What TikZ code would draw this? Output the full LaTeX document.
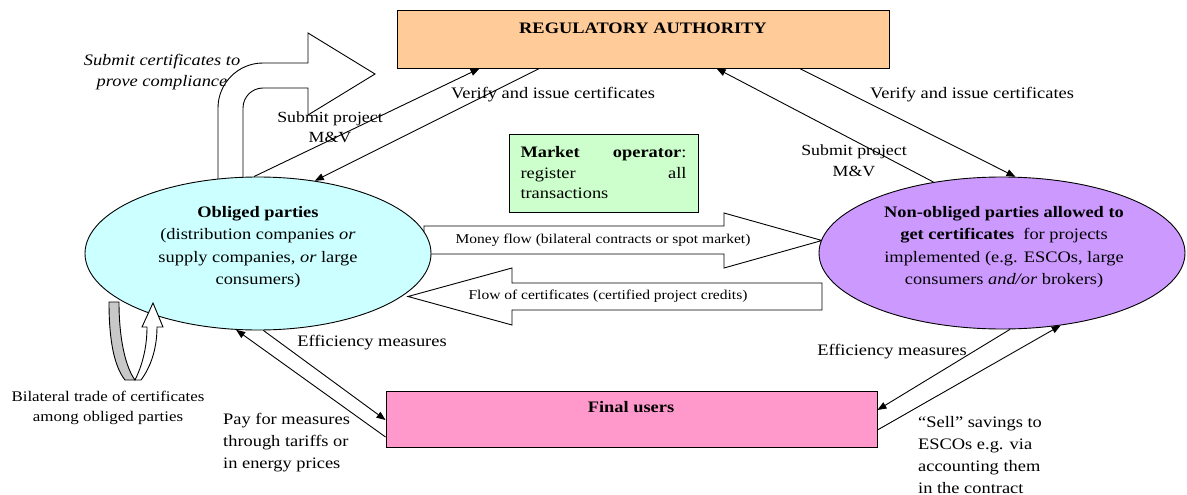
\documentclass[tikz,border=0pt]{standalone}
\usepackage{fontspec}
\setmainfont{Liberation Serif}[FakeStretch=1.15]
\usetikzlibrary{shapes.geometric,arrows.meta}
\definecolor{regc}{HTML}{FFCC99}
\definecolor{mktc}{HTML}{CCFFCC}
\definecolor{oblc}{HTML}{CCFFFF}
\definecolor{nobc}{HTML}{CC99FF}
\definecolor{finc}{HTML}{FF99CC}
\definecolor{loopgrey}{HTML}{C8C8C8}
\newcommand\tsz[2]{\fontsize{#1pt}{#2pt}\selectfont}
\begin{document}
\begin{tikzpicture}[x=1pt,y=-1pt,
  outl/.style={draw=black,line width=0.9pt},
  rectbox/.style={outl,rectangle,inner sep=0pt},
  ellbox/.style={outl,ellipse,inner sep=0pt},
  lbl/.style={inner sep=0pt,align=center,font=\tsz{16}{21}},
  lbll/.style={inner sep=0pt,align=left,anchor=west,font=\tsz{16}{22}},
  thinarrow/.style={line width=0.9pt,-{Triangle[length=9pt,width=7pt]}},
  blockarrow/.style={outl,fill=white,line join=miter}
]
\useasboundingbox (0,0) rectangle (1187,495);

% block arrows (behind ellipses)
\draw[blockarrow] (424,226) -- (724,226) -- (724,213) -- (822,240.5) -- (724,268) -- (724,254) -- (424,254) -- cycle;
\draw[blockarrow] (822,283) -- (512,283) -- (512,268) -- (408,296.5) -- (512,325) -- (512,310) -- (822,310) -- cycle;
% curved block arrow
\draw[blockarrow] (218,185) -- (218,108) .. controls (218,83.15) and (238.15,63) .. (263,63) -- (308,63) -- (308,33) -- (375,74) -- (308,115) -- (308,88) -- (263,88) .. controls (251.95,88) and (243,96.95) .. (243,108) -- (243,185) -- cycle;

% main nodes
\node[rectbox,fill=regc,minimum width=492pt,minimum height=58pt] (reg) at (643,39) {};
\node[rectbox,fill=finc,minimum width=491pt,minimum height=56pt] (fin) at (631.5,419) {};
\node[rectbox,fill=mktc,minimum width=189pt,minimum height=78pt] (mkt) at (603.5,173)
  {\parbox{166pt}{\tsz{16}{20.5}\textbf{Market}\hfill\textbf{operator}:\\ register\hfill all\\ transactions}};
\node[ellbox,fill=oblc,minimum width=346pt,minimum height=153pt] (obl) at (258,253.5) {};
\node[ellbox,fill=nobc,minimum width=366pt,minimum height=152pt] (nob) at (1002,253) {};

% node texts
\node[lbl,font=\tsz{16}{21}\bfseries] (regt) at (643,28) {REGULATORY AUTHORITY};
\node[lbl,font=\tsz{16}{21}\bfseries] (fint) at (631,407) {Final users};
\node[lbl,font=\tsz{16}{22.5}] (oblt) at (258,247) {\textbf{Obliged parties}\\(distribution companies \textit{or}\\supply companies, \textit{or} large\\consumers)};
\node[lbl,font=\tsz{16}{22.5}] (nobt) at (1004,247) {\textbf{Non-obliged parties allowed to}\\\textbf{get certificates}~ for projects\\implemented (e.g. ESCOs, large\\consumers \textit{and/or} brokers)};

% loop arrow (bilateral trade)
\filldraw[outl,fill=loopgrey] (109,302) -- (119,302) .. controls (119,340) and (126,368) .. (135,380) -- (125,380) .. controls (114,366) and (109,340) .. (109,302) -- cycle;
\filldraw[outl,fill=white,line join=miter] (135,380) .. controls (142,366) and (147,348) .. (147,327) -- (142,327) -- (153,303) -- (163,327) -- (157,327) .. controls (157,350) and (150,368) .. (141,380) -- cycle;

% thin arrows
\draw[thinarrow] (obl.93.7) -- ([xshift=83pt]reg.south west);
\draw[thinarrow] ([xshift=143pt]reg.south west) -- (obl.52.8);
\draw[thinarrow] (nob.134.4) -- ([xshift=320pt]reg.south west);
\draw[thinarrow] ([xshift=403pt]reg.south west) -- (nob.80.3);
\draw[thinarrow] (obl.-86.3) -- ([yshift=-1pt]fin.west);
\draw[thinarrow] ([yshift=-18pt]fin.west) -- (obl.254.5);
\draw[thinarrow] (nob.-84) -- ([yshift=9pt]fin.east);
\draw[thinarrow] ([yshift=-11pt]fin.east) -- (nob.-51.2);

% labels
\node[lbl,font=\tsz{16}{21}\itshape] (lsubc) at (162,72) {Submit certificates to\\prove compliance};
\node[lbl,font=\tsz{15.5}{20}] (lsubl) at (330,127) {Submit project\\M\&V};
\node[lbl,font=\tsz{15.5}{21}] (lsubr) at (854,161) {Submit project\\M\&V};
\node[lbl] (lverl) at (553,95) {Verify and issue certificates};
\node[lbl] (lverr) at (972,95) {Verify and issue certificates};
\node[lbl,font=\tsz{13.5}{18}] (lmon) at (603,240) {Money flow (bilateral contracts or spot market)};
\node[lbl,font=\tsz{13.5}{18}] (lcert) at (608,296) {Flow of certificates (certified project credits)};
\node[lbl] (leffl) at (372,343) {Efficiency measures};
\node[lbl] (leffr) at (892,352) {Efficiency measures};
\node[lbl,font=\tsz{14.7}{19.5}] (lbil) at (108,408) {Bilateral trade of certificates\\among obliged parties};
\node[lbll] (lpay) at (223,443) {Pay for measures\\through tariffs or\\in energy prices};
\node[lbll,font=\tsz{16}{21.7}] (lsell) at (918,455) {“Sell” savings to\\ESCOs e.g. via\\accounting them\\in the contract};
\end{tikzpicture}
\end{document}
